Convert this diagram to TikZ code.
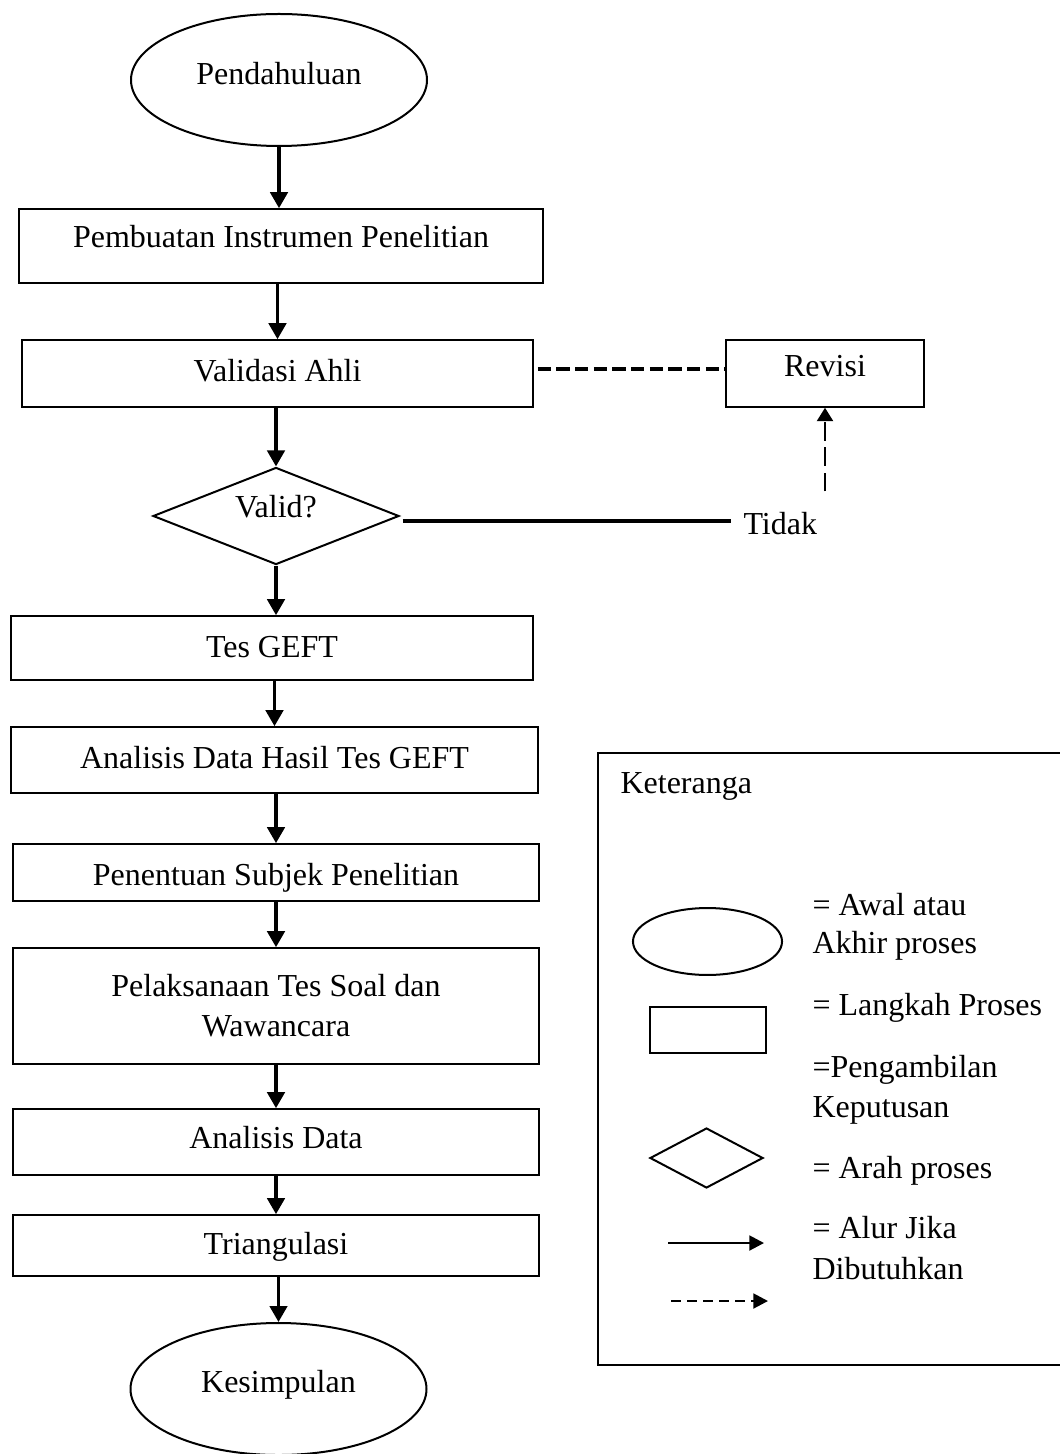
\documentclass[tikz,border=0pt]{standalone}
\usepackage{fontspec}
\setmainfont{Liberation Serif}
\usetikzlibrary{shapes.geometric,arrows.meta}
\begin{document}
\begin{tikzpicture}[x=0.375pt,y=-0.375pt,
  every node/.style={font=\fontsize{12}{15}\selectfont, inner sep=0pt},
  box/.style={draw, line width=0.6pt, rectangle, text height=8.5pt, text depth=2.5pt},
  term/.style={draw, line width=0.75pt, ellipse, minimum width=111pt, minimum height=49.5pt, text height=8.5pt},
  arr/.style={line width=1.3pt, -{Triangle[length=6pt,width=6.5pt]}},
  thickline/.style={line width=1.5pt},
  legtext/.style={anchor=base west},
  legshape/.style={draw, line width=0.75pt}
]
\useasboundingbox (0,0) rectangle (1060,1454);

% flow nodes
\node[term, text depth=4.75pt] (start) at (279,80) {Pendahuluan};
\node[box, minimum width=196.5pt, minimum height=27.75pt, text depth=7pt] (b1) at (281,246) {Pembuatan Instrumen Penelitian};
\node[box, minimum width=191.6pt, minimum height=25.1pt] (b2) at (277.5,373.5) {Validasi Ahli};
\node[box, minimum width=74.25pt, minimum height=25.1pt, text depth=6.6pt] (rev) at (825,373.5) {Revisi};
\node[draw, diamond, aspect=2.54, line width=0.75pt, minimum width=92.25pt, minimum height=36.4pt, text height=8.5pt, text depth=7.75pt] (dia) at (276,516) {Valid?};
\node[anchor=base west] (tidak) at (743,534) {Tidak};
\node[box, minimum width=195.75pt, minimum height=24pt, text depth=1.75pt] (b3) at (272,648) {Tes GEFT};
\node[box, minimum width=197.6pt, minimum height=24.75pt] (b4) at (274.5,760) {Analisis Data Hasil Tes GEFT};
\node[box, minimum width=197.4pt, minimum height=21.4pt, text height=9.5pt, text depth=0.1pt] (b5) at (276,872.5) {Penentuan Subjek Penelitian};
\node[draw, line width=0.6pt, rectangle, minimum width=197.4pt, minimum height=43.5pt, align=center] (b6) at (276,1006) {Pelaksanaan Tes Soal dan\\Wawancara};
\node[box, minimum width=197.4pt, minimum height=24.75pt, text depth=4pt] (b7) at (276,1142) {Analisis Data};
\node[box, minimum width=197.4pt, minimum height=22.9pt, text depth=1.4pt] (b8) at (276,1245.5) {Triangulasi};
\node[term, text depth=6.25pt] (end) at (278.5,1389) {Kesimpulan};

% flow arrows
\draw[arr] (start.south) -- (start.south |- b1.north);
\draw[arr] (b2.north |- b1.south) -- (b2.north);
\draw[arr] (dia.north |- b2.south) -- (dia.north);
\draw[arr] (dia.south) -- (dia.south |- b3.north);
\draw[arr] (b4.north |- b3.south) -- (b4.north);
\draw[arr] (b5.north |- b4.south) -- (b5.north);
\draw[arr] (b6.north |- b5.south) -- (b6.north);
\draw[arr] (b7.north |- b6.south) -- (b7.north);
\draw[arr] (b8.north |- b7.south) -- (b8.north);
\draw[arr] (end.north |- b8.south) -- (end.north);

% revision loop
\draw[thickline, dash pattern=on 5pt off 2pt, shorten <=1.5pt] ([yshift=1.7pt]b2.east) -- ([yshift=1.7pt]rev.west);
\draw[thickline, shorten <=1pt, shorten >=4.5pt] ([yshift=-1.9pt]dia.east) -- ([yshift=-1.9pt]dia.east -| tidak.west);
\draw[line width=0.8pt, dash pattern=on 7pt off 2.5pt, -{Triangle[length=5pt,width=6pt]}, shorten <=7.5pt] (rev.south |- tidak.north) -- (rev.south);

% legend
\node[draw, line width=0.5pt, minimum width=175.1pt, minimum height=229.5pt] (leg) at (831.5,1059) {};
\node[legtext] (legt) at (620,793) {Keteranga};
\node[legshape, ellipse, minimum width=55.9pt, minimum height=25.1pt] (lell) at (707.5,941.5) {};
\node[legshape, rectangle, minimum width=43.5pt, minimum height=17.25pt] (lrect) at (708,1030) {};
\node[legshape, diamond, aspect=1.88, minimum width=42.4pt, minimum height=22.5pt] (ldia) at (706.5,1158) {};
\coordinate (la1) at (668,1243);
\coordinate (la2) at (764,1243);
\draw[line width=0.8pt, -{Triangle[length=5.5pt,width=5.6pt]}] (la1) -- (la2);
\coordinate (ld1) at (671,1301);
\coordinate (ld2) at (768,1301);
\draw[line width=0.8pt, dash pattern=on 3.75pt off 2.25pt, -{Triangle[length=5.5pt,width=5.6pt]}] (ld1) -- (ld2);

\node[legtext] (t1) at (812,915) {= Awal atau};
\node[legtext] (t2) at (812,953) {Akhir proses};
\node[legtext] (t3) at (812,1015) {= Langkah Proses};
\node[legtext] (t4) at (812,1077) {=Pengambilan};
\node[legtext] (t5) at (812,1117) {Keputusan};
\node[legtext] (t6) at (812,1178) {= Arah proses};
\node[legtext] (t7) at (812,1238) {= Alur Jika};
\node[legtext] (t8) at (812,1279) {Dibutuhkan};
\end{tikzpicture}
\end{document}
